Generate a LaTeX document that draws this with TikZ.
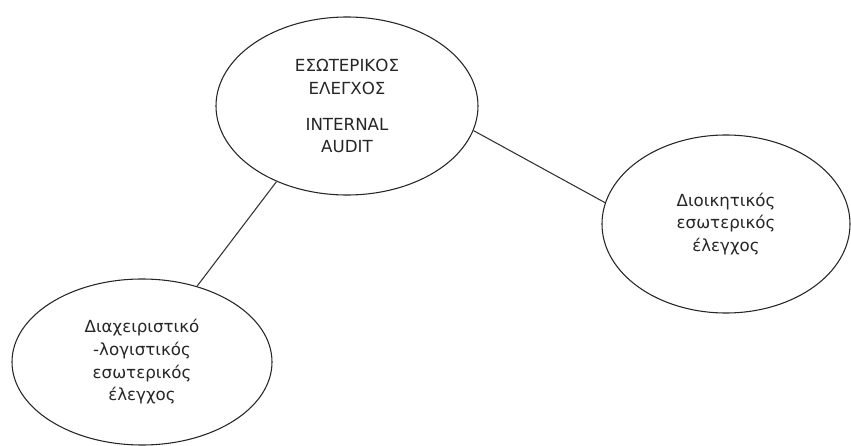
\documentclass[tikz,border=0pt]{standalone}
\usepackage{fontspec}
\setmainfont{DejaVu Sans}
\usetikzlibrary{shapes.geometric}

\begin{document}
\begin{tikzpicture}[x=0.75pt, y=-0.75pt, bubble/.style={draw=black!85, line width=0.8pt, ellipse, align=center, text=black!85, font=\fontsize{12.5}{17}\selectfont}, link/.style={draw=black!80, line width=0.8pt}]

  \path[fill=white, use as bounding box] (0,0) rectangle (851,446);

  \node[bubble, minimum width=196.5pt, minimum height=133.5pt] (audit) at (347,106) {ΕΣΩΤΕΡΙΚΟΣ\\ΕΛΕΓΧΟΣ\\[10pt]INTERNAL\\AUDIT};
  \node[bubble, minimum width=186pt, minimum height=133.5pt] (admin) at (726,224) {Διοικητικός\\εσωτερικός\\έλεγχος};
  \node[bubble, minimum width=195pt, minimum height=124.5pt] (acct) at (142,362) {Διαχειριστικό\\-λογιστικός\\εσωτερικός\\έλεγχος};

  \draw[link] (audit.-133) -- (acct.54);
  \draw[link] (audit.-11) -- (admin.170);
\end{tikzpicture}
\end{document}
